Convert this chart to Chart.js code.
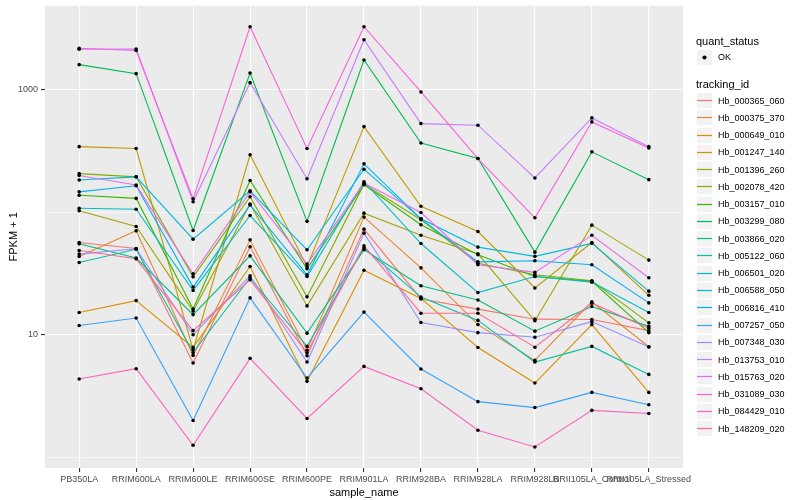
<!DOCTYPE html>
<html><head><meta charset="utf-8">
<script src="https://cdn.jsdelivr.net/npm/chart.js@4"></script>
<style>
html,body{margin:0;padding:0;background:#fff;}
#wrap{position:relative;width:800px;height:500px;overflow:hidden;}
#c{position:absolute;left:0;top:0;}
.lg{position:absolute;font-family:'Liberation Sans',Arial,Helvetica,sans-serif;color:#000;white-space:nowrap;line-height:14px;}
.lt{font-size:11px;}
.ll{font-size:9px;}
</style></head>
<body>
<div id="wrap"><canvas id="c" width="800" height="500"></canvas><div id="legend"></div></div>
<script>
// ---- data ----
const samples = ["PB350LA","RRIM600LA","RRIM600LE","RRIM600SE","RRIM600PE","RRIM901LA","RRIM928BA","RRIM928LA","RRIM928LB","RRII105LA_Control","RRII105LA_Stressed"];
const trackingIds = ["Hb_000365_060","Hb_000375_370","Hb_000649_010","Hb_001247_140","Hb_001396_260","Hb_002078_420","Hb_003157_010","Hb_003299_080","Hb_003866_020","Hb_005122_060","Hb_006501_020","Hb_006588_050","Hb_006816_410","Hb_007257_050","Hb_007348_030","Hb_013753_010","Hb_015763_020","Hb_031089_030","Hb_084429_010","Hb_148209_020"];
const fpkm_000365 = [56.7, 50.6, 5.88, 52.3, 6.74, 72.9, 19.6, 16.2, 13.4, 13.3, 10.8];
const fpkm_000375 = [43.6, 70.6, 6.78, 59.6, 7.47, 91.4, 35.2, 12.1, 6.17, 18.6, 7.98];
const fpkm_000649 = [15.2, 19.0, 7.88, 36.1, 4.16, 33.6, 19.8, 7.86, 4.03, 12.1, 3.38];
const fpkm_001247 = [344, 332, 7.54, 295, 36.1, 502, 112, 69.7, 24.1, 56.7, 21.0];
const fpkm_001396 = [103, 76.6, 15.6, 117, 17.2, 98.5, 64.9, 45.8, 13.0, 78.6, 40.7];
const fpkm_002078 = [207, 195, 29.7, 134, 20.4, 170, 86.9, 38.3, 30.9, 27.6, 12.5];
const fpkm_003157 = [138, 130, 16.2, 182, 34.6, 168, 79.1, 45.0, 29.9, 27.3, 10.4];
const fpkm_003299 = [1609, 1359, 71.0, 1376, 84.4, 1758, 369, 275, 47.3, 312, 185];
const fpkm_003866 = [55.3, 42.3, 14.6, 44.1, 10.3, 49.4, 25.1, 19.2, 10.7, 17.0, 11.7];
const fpkm_005122 = [38.9, 49.9, 7.16, 29.2, 8.03, 51.3, 20.3, 13.1, 5.98, 8.03, 4.74];
const fpkm_006501 = [108, 106, 23.0, 94.2, 29.9, 178, 55.6, 22.1, 29.9, 26.9, 15.2];
const fpkm_006588 = [184, 195, 60.4, 150, 49.4, 225, 88.5, 52.0, 43.7, 55.8, 22.7];
const fpkm_006816 = [147, 165, 24.5, 115, 30.9, 249, 88.5, 39.4, 40.2, 37.3, 18.2];
const fpkm_007257 = [11.9, 13.7, 1.99, 20.0, 4.43, 15.3, 5.25, 2.84, 2.54, 3.38, 2.68];
const fpkm_007348 = [45.6, 50.4, 10.0, 30.3, 5.98, 67.6, 12.6, 10.4, 9.54, 12.8, 7.94];
const fpkm_013753 = [2149, 2161, 122, 1147, 188, 2573, 531, 515, 191, 591, 344];
const fpkm_015763 = [200, 167, 31.5, 147, 37.8, 173, 99.6, 37.3, 32.3, 64.9, 29.2];
const fpkm_031089 = [2190, 2101, 129, 3286, 332, 3286, 963, 275, 90.2, 548, 336];
const fpkm_084429 = [4.35, 5.28, 1.25, 6.41, 2.07, 5.51, 3.62, 1.66, 1.21, 2.41, 2.27];
const fpkm_148209 = [48.8, 41.7, 10.8, 28.1, 7.13, 53.3, 15.0, 15.0, 7.91, 18.1, 11.3];
const yTickValues = [1, 10, 100, 1000];
const yTickLabels = ["", "10", "", "1000"];

const series = [fpkm_000365,fpkm_000375,fpkm_000649,fpkm_001247,fpkm_001396,fpkm_002078,fpkm_003157,fpkm_003299,fpkm_003866,fpkm_005122,fpkm_006501,fpkm_006588,fpkm_006816,fpkm_007257,fpkm_007348,fpkm_013753,fpkm_015763,fpkm_031089,fpkm_084429,fpkm_148209];
const colors = ["#F8766D","#EA8331","#D89000","#C09B00","#A3A500","#7CAE00","#39B600","#00BB4E","#00BF7D","#00C1A3","#00BFC4","#00BAE0","#00B0F6","#35A2FF","#9590FF","#C77CFF","#E76BF3","#FA62DB","#FF62BC","#FF6C91"];

// ---- axis range (ggplot-like 5% expansion in log space) ----
const allVals = series.flat();
const lmin = Math.log10(Math.min(...allVals)), lmax = Math.log10(Math.max(...allVals));
const ex = (lmax - lmin) * 0.05;
const yMin = Math.pow(10, lmin - ex), yMax = Math.pow(10, lmax + ex);

Chart.defaults.font.family = "'Liberation Sans', Arial, Helvetica, sans-serif";

const datasets = series.map((vals, i) => ({
  type: 'line',
  label: trackingIds[i],
  data: vals.map((v, j) => ({x: j, y: v})),
  borderColor: colors[i],
  borderWidth: 1.1,
  pointRadius: 0,
  fill: false,
  tension: 0,
  order: series.length - i + 1
}));
datasets.push({
  type: 'scatter',
  label: 'OK',
  data: series.flatMap(vals => vals.map((v, j) => ({x: j, y: v}))),
  backgroundColor: '#000',
  borderWidth: 0,
  pointRadius: 1.8,
  order: 0
});

// legend geometry (ggplot-like keys)
const keyX = 696, keySize = 17;
const okY = 57;
const keyY = i => 100.5 + i * 17.27;

const bgPlugin = {
  id: 'panelBg',
  beforeDraw(chart) {
    const {ctx, chartArea: a} = chart;
    ctx.save();
    ctx.fillStyle = '#EBEBEB';
    ctx.fillRect(a.left, a.top, a.right - a.left, a.bottom - a.top);
    ctx.restore();
  },
  afterDraw(chart) {
    const ctx = chart.ctx;
    ctx.save();
    const box = yc => {
      const t = Math.round(yc - keySize / 2);
      ctx.fillStyle = '#F2F2F2';
      ctx.fillRect(keyX + 1, t + 1, keySize - 2, keySize - 2);
      return t;
    };
    const t0 = box(okY);
    ctx.fillStyle = '#000';
    ctx.beginPath();
    ctx.arc(keyX + keySize / 2, t0 + keySize / 2, 2.1, 0, Math.PI * 2);
    ctx.fill();
    trackingIds.forEach((id, i) => {
      const t = box(keyY(i));
      ctx.strokeStyle = colors[i];
      ctx.lineWidth = 1.2;
      ctx.beginPath();
      ctx.moveTo(keyX + 1, t + keySize / 2);
      ctx.lineTo(keyX + keySize - 1, t + keySize / 2);
      ctx.stroke();
    });
    ctx.restore();
  }
};

new Chart(document.getElementById('c'), {
  type: 'line',
  data: {datasets},
  plugins: [bgPlugin],
  options: {
    responsive: false,
    animation: false,
    layout: {padding: {top: 5.7, right: 117, bottom: 0, left: 0}},
    plugins: {legend: {display: false}, tooltip: {enabled: false}},
    scales: {
      x: {
        type: 'linear',
        min: -0.6,
        max: samples.length - 1 + 0.6,
        afterBuildTicks: s => { s.ticks = samples.map((_, i) => ({value: i})); },
        afterFit: s => { s.height = 32; s.paddingLeft = 0; s.paddingRight = 0; },
        ticks: {callback: v => samples[v], autoSkip: false, maxRotation: 0, minRotation: 0, color: '#4D4D4D', font: {size: 9}, padding: 2},
        grid: {color: '#FFFFFF', lineWidth: 1.1, tickColor: '#333333', tickLength: 4},
        border: {display: false},
        title: {display: true, text: 'sample_name', color: '#000', font: {size: 11}, padding: {top: 4, bottom: 0}}
      },
      y: {
        type: 'logarithmic',
        min: yMin,
        max: yMax,
        afterBuildTicks: s => { s.ticks = yTickValues.map(v => ({value: v})); },
        afterFit: s => { s.width = 45; s.paddingTop = 0; s.paddingBottom = 0; },
        ticks: {callback: v => { const k = yTickValues.indexOf(v); return k >= 0 ? yTickLabels[k] : ''; }, autoSkip: false, color: '#4D4D4D', font: {size: 9}, padding: 3},
        grid: {
          color: '#FFFFFF',
          lineWidth: c => (c.tick && yTickLabels[yTickValues.indexOf(c.tick.value)]) ? 1.1 : 0.55,
          tickColor: c => (c.tick && yTickLabels[yTickValues.indexOf(c.tick.value)]) ? '#333333' : 'rgba(0,0,0,0)',
          tickLength: 4
        },
        border: {display: false},
        title: {display: true, text: 'FPKM + 1', color: '#000', font: {size: 11}, padding: {top: 7, bottom: 0}}
      }
    }
  }
});

// ---- legend text (ggplot style) ----
const legend = document.getElementById('legend');
function addText(text, x, yc, cls) {
  const d = document.createElement('div');
  d.className = 'lg ' + cls;
  d.textContent = text;
  d.style.left = x + 'px';
  d.style.top = Math.round(yc - 7) + 'px';
  legend.appendChild(d);
}
addText('quant_status', 696, 41, 'lt');
addText('OK', 718, okY, 'll');
addText('tracking_id', 696, 84, 'lt');
trackingIds.forEach((id, i) => addText(id, 718, keyY(i), 'll'));
</script>
</body></html>
